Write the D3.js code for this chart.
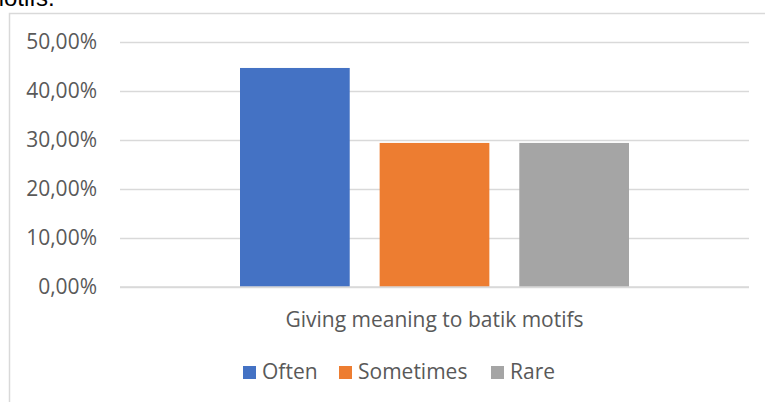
<!DOCTYPE html>
<html>
<head>
<meta charset="utf-8">
<script src="https://cdn.jsdelivr.net/npm/d3@7"></script>
<style>
  body { margin: 0; background: #fff; }
  svg { display: block; font-family: "Open Sans", "Noto Sans", sans-serif; }
</style>
</head>
<body>
<div id="chart"></div>
<script>
var width = 765;
var height = 402;
var font = "Open Sans, Noto Sans, sans-serif";
var fontSize = 21;

// data
var category = "Giving meaning to batik motifs";
var series = ["Often", "Sometimes", "Rare"];
var values = [0.447, 0.294, 0.294];
var colors = ["#4472c4", "#ed7d31", "#a5a5a5"];
var yTicks = [0, 0.1, 0.2, 0.3, 0.4, 0.5];

var plot = { left: 120, right: 749, top: 42, bottom: 287 };

var svg = d3.select("#chart")
  .append("svg")
  .attr("width", width)
  .attr("height", height);

// cut off text from the page above
svg.append("text")
  .attr("x", -16)
  .attr("y", 6)
  .attr("font-family", "Liberation Sans, Arial, sans-serif")
  .attr("font-size", 24)
  .attr("fill", "#000")
  .text("motifs.");

// chart border (top and left visible)
svg.append("path")
  .attr("d", "M9.5," + height + "V13.5H" + width)
  .attr("fill", "none")
  .attr("stroke", "#d9d9d9")
  .attr("stroke-width", 1.5);

var yscale = d3.scaleLinear()
  .domain([0, 0.5])
  .range([plot.bottom, plot.top]);

var x0 = d3.scaleBand()
  .domain([category])
  .range([plot.left, plot.right])
  .paddingInner(0)
  .paddingOuter(0);

var x1 = d3.scaleBand()
  .domain(series)
  .range([240 - plot.left, 629 - plot.left])
  .paddingInner(30 / 140)
  .paddingOuter(0);

var fmt = function(d) { return d3.format(".2f")(d * 100).replace(".", ",") + "%"; };

// gridlines
var yaxis = d3.axisLeft(yscale)
  .tickValues(yTicks)
  .tickSize(-(plot.right - plot.left))
  .tickFormat(fmt)
  .tickPadding(23);

var gy = svg.append("g")
  .attr("transform", "translate(" + plot.left + ",0)")
  .call(yaxis)
  .attr("font-family", font)
  .attr("font-size", fontSize);
gy.select(".domain").remove();
gy.selectAll(".tick line").attr("stroke", "#d9d9d9").attr("stroke-width", 1.3);
gy.selectAll(".tick text").attr("fill", "#595959");

// bars
svg.append("g")
  .selectAll("rect")
  .data(values)
  .enter()
  .append("rect")
  .attr("x", function(d, i) { return x0(category) + x1(series[i]); })
  .attr("width", x1.bandwidth())
  .attr("y", function(d) { return yscale(d); })
  .attr("height", function(d) { return yscale(0) - yscale(d); })
  .attr("fill", function(d, i) { return colors[i]; });

// baseline
svg.append("line")
  .attr("x1", plot.left).attr("x2", plot.right)
  .attr("y1", yscale(0)).attr("y2", yscale(0))
  .attr("stroke", "#d9d9d9").attr("stroke-width", 1.3);

// category label
svg.append("text")
  .attr("x", x0(category) + x0.bandwidth() / 2)
  .attr("y", 327)
  .attr("text-anchor", "middle")
  .attr("fill", "#595959")
  .attr("font-size", fontSize)
  .text(category);

// legend
var legendX = [243, 339, 491];
var legend = svg.append("g");
series.forEach(function(s, i) {
  legend.append("rect")
    .attr("x", legendX[i])
    .attr("y", 366)
    .attr("width", 13)
    .attr("height", 13)
    .attr("fill", colors[i]);
  legend.append("text")
    .attr("x", legendX[i] + 19)
    .attr("y", 379)
    .attr("fill", "#595959")
    .attr("font-size", fontSize)
    .text(s);
});
</script>
</body>
</html>
